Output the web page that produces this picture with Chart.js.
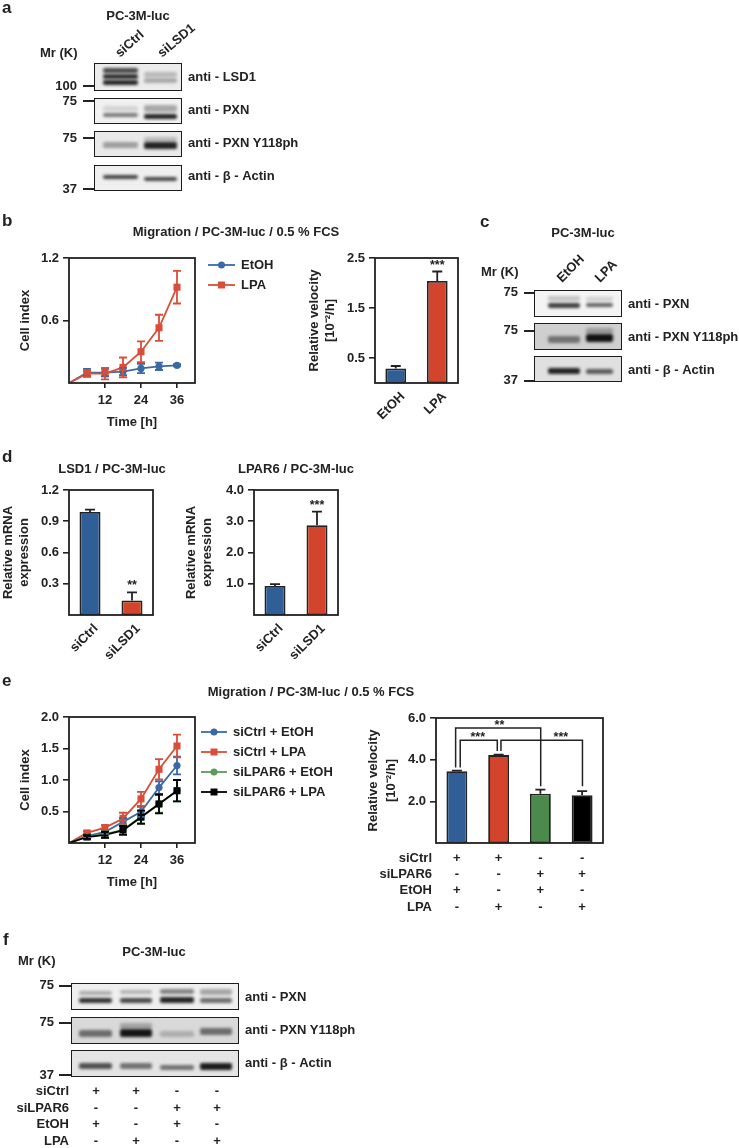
<!DOCTYPE html>
<html>
<head>
<meta charset="utf-8">
<title>PC-3M-luc figure</title>
<script src="https://cdn.jsdelivr.net/npm/chart.js@4"></script>
<style>
  body { margin: 0; background: #fff; }
  #page { position: relative; width: 739px; height: 1148px; overflow: hidden; filter: blur(0.45px);
          font-family: "Liberation Sans", Arial, sans-serif; font-weight: bold; color: #222; }
  #page canvas { position: absolute; }
  .txt { position: absolute; white-space: nowrap; font-size: 13px; line-height: 14px; }
  .blot { position: absolute; box-sizing: border-box; border: 1.6px solid #1c1c1c; overflow: hidden; }
  .band { position: absolute; filter: blur(1.6px); border-radius: 2px; }
  .mk { position: absolute; height: 1.6px; background: #222; }
</style>
</head>
<body>
<div id="page"></div>
<script>
// ---- values ----
const timeHours = [0, 6, 12, 18, 24, 30, 36];
const timeTicks = [12, 24, 36];

// panel b, line chart
const bEtoh = [0, 0.10, 0.10, 0.11, 0.14, 0.16, 0.17];
const bEtohErr = [0, 0.035, 0.035, 0.035, 0.045, 0.035, 0.01];
const bLpa = [0, 0.09, 0.09, 0.15, 0.30, 0.53, 0.92];
const bLpaErr = [0, 0.03, 0.055, 0.095, 0.10, 0.125, 0.157];
const bLineTicks = [0.6, 1.2];

// panel b, velocity
const bBarCats = ["EtOH", "LPA"];
const bBarVals = [0.29, 2.04];
const bBarErr = [0.05, 0.19];
const bBarStars = ["", "***"];
const bBarTicks = [0.5, 1.5, 2.5];

// panel d
const dCats = ["siCtrl", "siLSD1"];
const dLsd1Vals = [0.99, 0.14];
const dLsd1Err = [0.022, 0.077];
const dLsd1Stars = ["", "**"];
const dLsd1Ticks = [0.3, 0.6, 0.9, 1.2];
const dLpar6Vals = [0.93, 2.87];
const dLpar6Err = [0.06, 0.44];
const dLpar6Stars = ["", "***"];
const dLpar6Ticks = [1, 2, 3, 4];

// panel e, line chart
const eCtrlEtoh = [0, 0.11, 0.175, 0.335, 0.495, 0.88, 1.23];
const eCtrlEtohErr = [0, 0.03, 0.03, 0.06, 0.08, 0.10, 0.14];
const eCtrlLpa = [0, 0.16, 0.245, 0.39, 0.70, 1.17, 1.54];
const eCtrlLpaErr = [0, 0.03, 0.04, 0.09, 0.11, 0.16, 0.18];
const eLparEtoh = [0, 0.10, 0.14, 0.21, 0.415, 0.62, 0.83];
const eLparEtohErr = [0, 0.03, 0.05, 0.07, 0.10, 0.14, 0.17];
const eLparLpa = [0, 0.095, 0.13, 0.20, 0.41, 0.62, 0.83];
const eLparLpaErr = [0, 0.03, 0.05, 0.07, 0.105, 0.15, 0.17];
const eLineTicks = [0.5, 1, 1.5, 2];

// panel e, velocity
const eBarCats = ["a", "b", "c", "d"];
const eBarVals = [3.45, 4.22, 2.37, 2.29];
const eBarErr = [0.02, 0.02, 0.19, 0.2];
const eBarTicks = [2, 4, 6];
const signLabels = ["siCtrl", "siLPAR6", "EtOH", "LPA"];
const signRows = [
  ["+", "+", "-", "-"],
  ["-", "-", "+", "+"],
  ["+", "-", "+", "-"],
  ["-", "+", "-", "+"],
];
// from bar, to bar, bracket height, height each end drops to, stars, bar the stars sit over
const sigFrom = [-0.03, 0.08, 1.056];
const sigTo = [2.008, 0.968, 3.008];
const sigLevel = [5.52, 4.93, 4.93];
const sigFromEnd = [3.62, 3.62, 4.42];
const sigToEnd = [2.72, 4.42, 2.72];
const sigStars = ["**", "***", "***"];
const sigStarAt = [1.02, 0.5, 2.49];

// ---- colours ----
const BLUE = "#2f5f96";
const RED = "#d2452c";
const GREEN = "#4b8a4c";
const BLACK = "#000000";
const LINE_BLUE = "#3a69a5";
const LINE_RED = "#d94e38";
const LINE_GREEN = "#5a9a5c";
const INK = "#222222";
const TICK_FONT = { family: "Liberation Sans", size: 13, weight: "bold" };

const page = document.getElementById("page");

// draws the frame, the error bars, the stars and the small extras of each panel
const panelPlugin = {
  id: "panelExtras",
  afterDatasetsDraw(chart) {
    const ctx = chart.ctx;
    const xs = chart.scales.x;
    const ys = chart.scales.y;
    const isBar = chart.config.type === "bar";
    ctx.save();
    chart.data.datasets.forEach((ds) => {
      if (!ds.errs) return;
      ctx.strokeStyle = ds.errColor || ds.borderColor;
      ctx.lineWidth = 1.8;
      ds.errs.forEach((e, i) => {
        if (!e) return;
        const v = isBar ? ds.data[i] : ds.data[i].y;
        const px = isBar ? xs.getPixelForValue(i) : xs.getPixelForValue(ds.data[i].x);
        const hi = ys.getPixelForValue(v + e);
        const lo = isBar ? ys.getPixelForValue(v) : ys.getPixelForValue(v - e);
        const cap = isBar ? 5 : 4;
        ctx.beginPath();
        ctx.moveTo(px, lo); ctx.lineTo(px, hi);
        ctx.moveTo(px - cap, hi); ctx.lineTo(px + cap, hi);
        if (!isBar) { ctx.moveTo(px - cap, lo); ctx.lineTo(px + cap, lo); }
        ctx.stroke();
      });
      if (ds.stars) {
        ctx.fillStyle = INK;
        ctx.font = "bold 12.5px 'Liberation Sans'";
        ctx.textAlign = "center";
        ds.stars.forEach((s, i) => {
          if (s) ctx.fillText(s, xs.getPixelForValue(i), ys.getPixelForValue(ds.data[i] + ds.errs[i]) - 3);
        });
      }
    });
    ctx.restore();
  },
  afterDraw(chart, args, opts) {
    const ctx = chart.ctx;
    const a = chart.chartArea;
    ctx.save();
    ctx.strokeStyle = INK;
    ctx.lineWidth = 1.8;
    ctx.strokeRect(a.left, a.top, a.right - a.left, a.bottom - a.top);

    // legend to the right of the plot
    if (opts.legend) {
      ctx.font = "bold 13px 'Liberation Sans'";
      ctx.textBaseline = "middle";
      ctx.textAlign = "left";
      chart.data.datasets.forEach((ds, i) => {
        const y = a.top + opts.legend.top + i * opts.legend.step;
        const x = a.right + opts.legend.gap;
        ctx.strokeStyle = ds.borderColor;
        ctx.fillStyle = ds.borderColor;
        ctx.lineWidth = 1.8;
        ctx.beginPath();
        ctx.moveTo(x, y); ctx.lineTo(x + opts.legend.len, y);
        ctx.stroke();
        if (ds.pointStyle === "rect") {
          ctx.fillRect(x + opts.legend.len / 2 - 3.5, y - 3.5, 7, 7);
        } else {
          ctx.beginPath();
          ctx.arc(x + opts.legend.len / 2, y, 3.5, 0, Math.PI * 2);
          ctx.fill();
        }
        ctx.fillStyle = INK;
        ctx.fillText(ds.label, x + opts.legend.len + 6, y);
      });
    }

    // significance brackets and the +/- table of panel e
    if (opts.brackets) {
      const xs = chart.scales.x;
      const ys = chart.scales.y;
      ctx.strokeStyle = INK;
      ctx.lineWidth = 1.5;
      sigFrom.forEach((from, i) => {
        const x1 = xs.getPixelForValue(from);
        const x2 = xs.getPixelForValue(sigTo[i]);
        const y = ys.getPixelForValue(sigLevel[i]);
        ctx.beginPath();
        ctx.moveTo(x1, ys.getPixelForValue(sigFromEnd[i]));
        ctx.lineTo(x1, y);
        ctx.lineTo(x2, y);
        ctx.lineTo(x2, ys.getPixelForValue(sigToEnd[i]));
        ctx.stroke();
        ctx.fillStyle = INK;
        ctx.font = "bold 12.5px 'Liberation Sans'";
        ctx.textAlign = "center";
        ctx.fillText(sigStars[i], xs.getPixelForValue(sigStarAt[i]), y + 1);
      });
      ctx.textBaseline = "middle";
      ctx.font = "bold 13px 'Liberation Sans'";
      signLabels.forEach((name, r) => {
        const y = a.bottom + opts.brackets.first + r * opts.brackets.step;
        ctx.textAlign = "right";
        ctx.fillText(name, a.left - 4, y);
        ctx.textAlign = "center";
        signRows[r].forEach((s, c) => ctx.fillText(s, xs.getPixelForValue(c), y));
      });
    }
    ctx.restore();
  },
};

function yAxis(maxVal, tickVals, titleLines, yW, lineH, titlePad, digits) {
  return {
    min: 0,
    max: maxVal,
    afterBuildTicks(s) { s.ticks = tickVals.map((v) => ({ value: v })); },
    afterFit(s) { s.width = yW; s.paddingTop = 0; s.paddingBottom = 0; },
    grid: { drawOnChartArea: false, tickLength: 6, color: INK, lineWidth: 1.6 },
    border: { display: false },
    ticks: { autoSkip: false, padding: 4, color: INK, font: TICK_FONT, callback: (v) => Number(v).toFixed(digits) },
    title: {
      display: true, text: titleLines, color: INK, padding: { top: titlePad, bottom: 0 },
      font: { family: "Liberation Sans", size: 13, weight: "bold", lineHeight: lineH },
    },
  };
}

function timeAxis(xH) {
  return {
    type: "linear",
    min: 0,
    max: 42,
    afterBuildTicks(s) { s.ticks = timeTicks.map((v) => ({ value: v })); },
    afterFit(s) { s.height = xH; s.paddingLeft = 0; s.paddingRight = 0; },
    grid: { drawOnChartArea: false, tickLength: 5, color: INK, lineWidth: 1.6 },
    border: { display: false },
    ticks: { autoSkip: false, padding: 5, color: INK, font: TICK_FONT, maxRotation: 0 },
    title: {
      display: true, text: "Time [h]", color: INK, padding: { top: 0, bottom: -1 },
      font: { family: "Liberation Sans", size: 13, weight: "bold", lineHeight: "16px" },
    },
  };
}

function catAxis(xH, rotated, nudge) {
  return {
    afterFit(s) { s.height = xH; s.paddingLeft = 0; s.paddingRight = 0; },
    grid: { display: false },
    border: { display: false },
    ticks: {
      display: rotated, autoSkip: false, color: INK, font: TICK_FONT, padding: -2,
      minRotation: 45, maxRotation: 45, labelOffset: nudge,
    },
  };
}

// box: where the plot area goes on the page, leftW: room kept left of it, rightW: room right of it
function addChart(box, leftW, rightW, bottomH, type, data, scales, extras) {
  const c = document.createElement("canvas");
  const topPad = 10;
  c.width = leftW + box.w + rightW;
  c.height = topPad + box.h + bottomH;
  c.style.left = box.x - leftW + "px";
  c.style.top = box.y - topPad + "px";
  page.appendChild(c);
  return new Chart(c.getContext("2d"), {
    type: type,
    data: data,
    plugins: [panelPlugin],
    options: {
      responsive: false,
      animation: false,
      devicePixelRatio: 1,
      layout: { padding: { left: 0, right: rightW, top: topPad, bottom: 0 } },
      scales: scales,
      plugins: { legend: { display: false }, tooltip: { enabled: false }, panelExtras: extras || {} },
    },
  });
}

function lineSet(label, vals, errs, color, style, order) {
  return {
    label: label,
    data: vals.map((v, i) => ({ x: timeHours[i], y: v })),
    errs: errs,
    order: order,
    borderColor: color,
    backgroundColor: color,
    borderWidth: 1.8,
    pointStyle: style,
    pointRadius: (ctx) => (ctx.dataIndex === 0 ? 0 : style === "rect" ? 5 : 3.6),
    pointBorderWidth: 0,
    tension: 0,
  };
}

function barSet(vals, errs, colors, stars) {
  return {
    data: vals,
    errs: errs,
    errColor: INK,
    stars: stars,
    backgroundColor: colors,
    borderColor: INK,
    borderWidth: 1.8,
    borderSkipped: false,
    barPercentage: 0.5,
    categoryPercentage: 1,
  };
}

// panel b
addChart({ x: 69, y: 258, w: 126, h: 125 }, 69, 110, 46, "line",
  { datasets: [lineSet("EtOH", bEtoh, bEtohErr, LINE_BLUE, "circle", 1), lineSet("LPA", bLpa, bLpaErr, LINE_RED, "rect", 0)] },
  { x: timeAxis(46), y: yAxis(1.2, bLineTicks, "Cell index", 69, "16px", 17, 1) },
  { legend: { top: 7, step: 20, gap: 13, len: 27 } });

addChart({ x: 375, y: 258, w: 83, h: 125 }, 69, 4, 50, "bar",
  { labels: bBarCats, datasets: [barSet(bBarVals, bBarErr, [BLUE, RED], bBarStars)] },
  { x: catAxis(50, true, 7), y: yAxis(2.5, bBarTicks, ["Relative velocity", "[10\u207B\u00B2/h]"], 69, "16px", 0, 1) });

// panel d
addChart({ x: 69, y: 490, w: 84, h: 125 }, 69, 4, 62, "bar",
  { labels: dCats, datasets: [barSet(dLsd1Vals, dLsd1Err, [BLUE, RED], dLsd1Stars)] },
  { x: catAxis(62, true, 6), y: yAxis(1.2, dLsd1Ticks, ["Relative mRNA", "expression"], 69, "16px", 0, 1) });

addChart({ x: 254, y: 490, w: 84, h: 125 }, 71, 4, 62, "bar",
  { labels: dCats, datasets: [barSet(dLpar6Vals, dLpar6Err, [BLUE, RED], dLpar6Stars)] },
  { x: catAxis(62, true, 6), y: yAxis(4, dLpar6Ticks, ["Relative mRNA", "expression"], 71, "16px", 0, 1) });

// panel e
addChart({ x: 69, y: 717, w: 126, h: 126 }, 69, 160, 46, "line",
  { datasets: [
    lineSet("siCtrl + EtOH", eCtrlEtoh, eCtrlEtohErr, LINE_BLUE, "circle", 3),
    lineSet("siCtrl + LPA", eCtrlLpa, eCtrlLpaErr, LINE_RED, "rect", 2),
    lineSet("siLPAR6 + EtOH", eLparEtoh, eLparEtohErr, LINE_GREEN, "circle", 1),
    lineSet("siLPAR6 + LPA", eLparLpa, eLparLpaErr, BLACK, "rect", 0),
  ] },
  { x: timeAxis(46), y: yAxis(2, eLineTicks, "Cell index", 69, "16px", 17, 1) },
  { legend: { top: 15, step: 20, gap: 6, len: 26 } });

addChart({ x: 436, y: 718, w: 167, h: 125 }, 72, 4, 75, "bar",
  { labels: eBarCats, datasets: [barSet(eBarVals, eBarErr, [BLUE, RED, GREEN, BLACK], null)] },
  { x: catAxis(75, false, 0), y: yAxis(6, eBarTicks, ["Relative velocity", "[10\u207B\u00B2/h]"], 72, "18px", 0, 1) },
  { brackets: { first: 15, step: 16.4 } });

// ---- text and western blot panels ----
function txt(s, x, y, align, size) {
  const d = document.createElement("div");
  d.className = "txt";
  d.textContent = s;
  d.style.left = x + "px";
  d.style.top = y - 7 + "px";
  if (size) { d.style.fontSize = size + "px"; }
  if (align === "c") d.style.transform = "translateX(-50%)";
  if (align === "r") d.style.transform = "translateX(-100%)";
  page.appendChild(d);
}

function rotTxt(s, x, y, deg) {
  const d = document.createElement("div");
  d.className = "txt";
  d.textContent = s;
  d.style.left = x + "px";
  d.style.top = y - 14 + "px";
  d.style.transformOrigin = "0 100%";
  d.style.transform = "rotate(" + deg + "deg)";
  page.appendChild(d);
}

function mark(x, y, w) {
  const d = document.createElement("div");
  d.className = "mk";
  d.style.left = x + "px";
  d.style.top = y + "px";
  d.style.width = w + "px";
  page.appendChild(d);
}

// bands: [lane, top, height, darkness]
function blot(x, y, w, h, bg, lanes, bands) {
  const b = document.createElement("div");
  b.className = "blot";
  b.style.cssText = "left:" + x + "px;top:" + y + "px;width:" + w + "px;height:" + h + "px;background:" + bg;
  bands.forEach((k) => {
    const e = document.createElement("div");
    e.className = "band";
    e.style.left = lanes[k[0]][0] + "px";
    e.style.width = lanes[k[0]][1] + "px";
    e.style.top = k[1] + "px";
    e.style.height = k[2] + "px";
    e.style.background = "rgba(0,0,0," + k[3] + ")";
    b.appendChild(e);
  });
  page.appendChild(b);
}

// panel a
txt("a", 2, 8, "l", 17);
txt("PC-3M-luc", 138, 16, "c");
txt("Mr (K)", 40, 53);
rotTxt("siCtrl", 122, 60, -42);
rotTxt("siLSD1", 164, 60, -40);
const lanesA = [[8, 35], [49, 33]];
blot(94, 63, 88, 28, "#ececec", lanesA, [[0, 4, 5, 0.7], [0, 10, 5, 0.8], [0, 16, 5, 0.85], [1, 8, 5, 0.22], [1, 14, 5, 0.28]]);
blot(94, 98, 88, 26, "#f1f1f1", lanesA, [[0, 7, 5, 0.12], [0, 14, 4, 0.5], [1, 6, 7, 0.3], [1, 15, 5, 0.85]]);
blot(94, 131, 88, 26, "#e9e9e9", lanesA, [[0, 10, 6, 0.32], [1, 5, 5, 0.2], [1, 10, 7, 0.85]]);
blot(94, 165, 88, 26, "#efefef", lanesA, [[0, 9, 4, 0.72], [1, 11, 4, 0.7]]);
[["100", 86, 85], ["75", 101, 100], ["75", 138, 137], ["37", 189, 188]].forEach((m) => {
  txt(m[0], 77, m[1], "r");
  mark(83, m[2], 11);
});
txt("anti - LSD1", 188, 77);
txt("anti - PXN", 188, 110);
txt("anti - PXN Y118ph", 188, 143);
txt("anti - \u03B2 - Actin", 188, 176);

// panel b headings
txt("b", 2, 221, "l", 17);
txt("Migration / PC-3M-luc / 0.5 % FCS", 236, 232, "c");

// panel c
txt("c", 480, 222, "l", 17);
txt("PC-3M-luc", 583, 233, "c");
txt("Mr (K)", 481, 272);
rotTxt("EtOH", 564, 285, -45);
rotTxt("LPA", 602, 285, -45);
const lanesC = [[13, 32], [51, 27]];
blot(534, 290, 88, 27, "#f4f4f4", lanesC, [[0, 5, 5, 0.2], [0, 12, 5, 0.75], [1, 6, 4, 0.15], [1, 12, 4, 0.6]]);
blot(534, 323, 88, 27, "#cfcfcf", lanesC, [[0, 12, 7, 0.45], [1, 4, 6, 0.25], [1, 10, 8, 0.92]]);
blot(534, 356, 88, 26, "#e0e0e0", lanesC, [[0, 11, 6, 0.85], [1, 12, 5, 0.6]]);
[["75", 292, 292], ["75", 330, 330], ["37", 380, 380]].forEach((m) => {
  txt(m[0], 518, m[1], "r");
  mark(524, m[2], 10);
});
txt("anti - PXN", 628, 304);
txt("anti - PXN Y118ph", 628, 337);
txt("anti - \u03B2 - Actin", 628, 370);

// panel d headings
txt("d", 2, 457, "l", 17);
txt("LSD1 / PC-3M-luc", 112, 469, "c");
txt("LPAR6 / PC-3M-luc", 296, 469, "c");

// panel e headings
txt("e", 2, 681, "l", 17);
txt("Migration / PC-3M-luc / 0.5 % FCS", 311, 692, "c");

// panel f
txt("f", 3, 940, "l", 17);
txt("Mr (K)", 18, 961);
txt("PC-3M-luc", 154, 952, "c");
const lanesF = [[7, 33], [48, 32], [88, 34], [128, 32]];
blot(71, 983, 168, 27, "#efefef", lanesF, [
  [0, 7, 4, 0.28], [0, 14, 5, 0.8], [1, 6, 4, 0.25], [1, 14, 5, 0.7],
  [2, 5, 5, 0.45], [2, 13, 6, 0.85], [3, 5, 6, 0.3], [3, 14, 5, 0.55],
]);
blot(71, 1017, 168, 27, "#d9d9d9", lanesF, [
  [0, 12, 7, 0.5], [1, 5, 6, 0.25], [1, 11, 8, 0.9], [2, 13, 6, 0.2], [3, 10, 7, 0.5],
]);
blot(71, 1050, 168, 27, "#e4e4e4", lanesF, [
  [0, 12, 6, 0.65], [1, 12, 6, 0.5], [2, 14, 5, 0.5], [3, 12, 7, 0.88],
]);
[["75", 985, 985], ["75", 1022, 1022], ["37", 1075, 1074]].forEach((m) => {
  txt(m[0], 54, m[1], "r");
  mark(59, m[2], 12);
});
txt("anti - PXN", 245, 997);
txt("anti - PXN Y118ph", 245, 1030);
txt("anti - \u03B2 - Actin", 245, 1063);
const fCols = [96, 136, 177, 217];
const fRows = [1091, 1108, 1124, 1141];
signLabels.forEach((name, r) => {
  txt(name, 69, fRows[r], "r");
  signRows[r].forEach((s, c) => txt(s, fCols[c], fRows[r], "c"));
});
</script>
</body>
</html>
